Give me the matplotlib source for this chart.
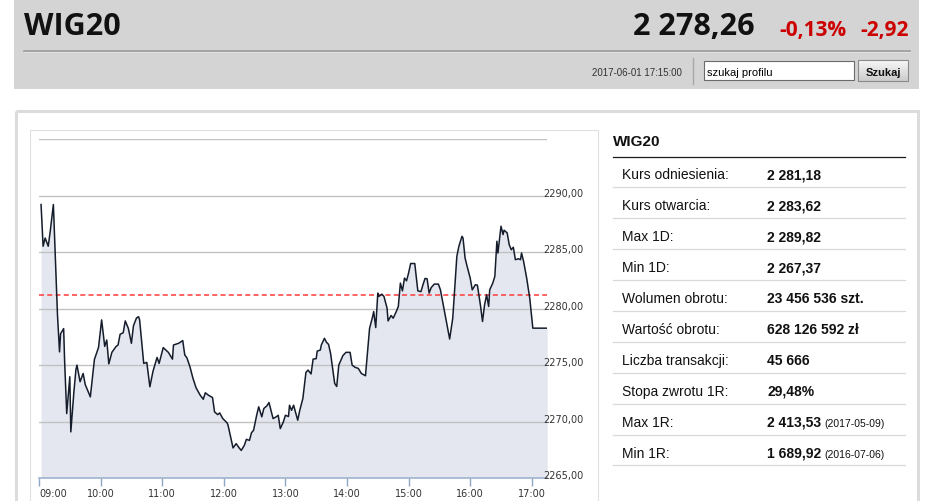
import numpy as np
import matplotlib
matplotlib.use("Agg")
import matplotlib.pyplot as plt
import matplotlib.patches as patches

# Quote snapshot (header)
index_name = "WIG20"
last_value = "2 278,26"
change_pct = "-0,13%"
change_abs = "-2,92"
timestamp = "2017-06-01 17:15:00"
reference_level = 2281.18  # kurs odniesienia

# Intraday quotes
times = ["09:02", "09:04", "09:06", "09:09", "09:11", "09:14", "09:18", "09:20", "09:21", "09:24",
         "09:25", "09:27", "09:30", "09:31", "09:34", "09:36", "09:37", "09:40", "09:43", "09:45",
         "09:50", "09:54", "09:58", "10:01", "10:04", "10:06", "10:08", "10:11", "10:15", "10:17",
         "10:19", "10:22", "10:24", "10:27", "10:30", "10:32", "10:35", "10:37", "10:38", "10:42",
         "10:45", "10:48", "10:51", "10:55", "10:57", "11:01", "11:06", "11:10", "11:11", "11:16",
         "11:20", "11:22", "11:24", "11:27", "11:30", "11:33", "11:37", "11:40", "11:42", "11:45",
         "11:49", "11:51", "11:54", "11:56", "11:59", "12:03", "12:04", "12:07", "12:09", "12:12",
         "12:15", "12:17", "12:20", "12:22", "12:25", "12:27", "12:29", "12:32", "12:34", "12:37",
         "12:39", "12:42", "12:44", "12:48", "12:51", "12:53", "12:55", "12:58", "13:00", "13:03",
         "13:04", "13:06", "13:08", "13:12", "13:14", "13:17", "13:20", "13:22", "13:25", "13:27",
         "13:30", "13:31", "13:34", "13:35", "13:38", "13:40", "13:42", "13:44", "13:46", "13:48",
         "13:50", "13:52", "13:56", "13:59", "14:03", "14:05", "14:08", "14:11", "14:14", "14:18",
         "14:20", "14:22", "14:25", "14:26", "14:28", "14:30", "14:31", "14:34", "14:36", "14:39",
         "14:40", "14:43", "14:45", "14:48", "14:50", "14:52", "14:54", "14:56", "14:58", "15:00",
         "15:02", "15:06", "15:08", "15:09", "15:12", "15:14", "15:16", "15:18", "15:20", "15:22",
         "15:25", "15:29", "15:31", "15:35", "15:40", "15:43", "15:47", "15:49", "15:52", "15:53",
         "15:55", "15:57", "16:00", "16:02", "16:05", "16:07", "16:09", "16:10", "16:12", "16:14",
         "16:16", "16:18", "16:19", "16:22", "16:24", "16:26", "16:27", "16:30", "16:32", "16:33",
         "16:36", "16:38", "16:40", "16:42", "16:44", "16:47", "16:49", "16:50", "16:52", "16:55",
         "16:58", "17:01", "17:15"]

prices = [2289.20, 2285.51, 2286.24, 2285.51, 2286.87, 2289.20, 2279.43, 2276.16, 2277.76, 2278.22,
          2275.23, 2270.70, 2273.96, 2269.08, 2272.63, 2274.61, 2274.99, 2273.52, 2274.25, 2273.28,
          2272.18, 2275.50, 2276.56, 2278.99, 2276.65, 2277.21, 2275.10, 2276.12, 2276.63, 2276.77,
          2277.72, 2277.85, 2278.90, 2278.25, 2276.92, 2278.47, 2279.17, 2279.27, 2278.99, 2275.14,
          2275.23, 2273.07, 2274.43, 2275.67, 2275.14, 2276.54, 2276.12, 2275.52, 2276.77, 2276.92,
          2277.16, 2275.88, 2275.65, 2274.85, 2273.81, 2272.98, 2272.33, 2271.97, 2272.54, 2272.33,
          2272.12, 2270.85, 2270.61, 2270.76, 2270.26, 2269.90, 2269.72, 2268.48, 2267.66, 2268.04,
          2267.66, 2267.44, 2267.89, 2268.42, 2268.33, 2269.01, 2269.22, 2270.55, 2271.30, 2270.41,
          2271.15, 2271.39, 2271.68, 2270.26, 2270.41, 2270.55, 2269.37, 2269.96, 2270.55, 2270.44,
          2271.44, 2270.99, 2271.44, 2270.11, 2270.99, 2272.03, 2274.34, 2274.55, 2274.21, 2275.52,
          2275.56, 2276.23, 2276.32, 2276.77, 2277.36, 2277.01, 2276.83, 2276.03, 2274.70, 2273.37,
          2273.10, 2274.99, 2275.83, 2276.12, 2276.12, 2274.99, 2274.79, 2274.70, 2274.25, 2274.05,
          2276.18, 2278.25, 2279.29, 2279.73, 2278.31, 2281.36, 2281.07, 2281.27, 2281.07, 2280.03,
          2278.90, 2279.38, 2279.14, 2279.73, 2280.18, 2282.25, 2281.56, 2282.69, 2282.45, 2283.14,
          2283.98, 2283.98, 2282.42, 2281.56, 2281.49, 2282.10, 2282.66, 2282.63, 2281.36, 2281.85,
          2282.16, 2282.16, 2281.65, 2279.73, 2277.30, 2279.14, 2284.62, 2285.51, 2286.39, 2286.24,
          2284.47, 2283.73, 2282.69, 2281.65, 2282.10, 2282.07, 2280.91, 2280.27, 2278.85, 2280.32,
          2281.21, 2280.18, 2281.65, 2282.25, 2282.84, 2285.95, 2284.91, 2287.28, 2286.54, 2286.93,
          2286.69, 2285.65, 2285.20, 2285.42, 2284.32, 2284.40, 2284.32, 2284.91, 2284.17, 2282.69,
          2280.91, 2278.26, 2278.26]

hour_ticks = [9, 10, 11, 12, 13, 14, 15, 16, 17]
price_ticks = [2265, 2270, 2275, 2280, 2285, 2290]
grid_levels = [2270, 2275, 2280, 2285, 2290, 2295]

# Side table
stat_labels = ["Kurs odniesienia:", "Kurs otwarcia:", "Max 1D:", "Min 1D:", "Wolumen obrotu:",
               "Wartość obrotu:", "Liczba transakcji:", "Stopa zwrotu 1R:", "Max 1R:", "Min 1R:"]
stat_values = ["2 281,18", "2 283,62", "2 289,82", "2 267,37", "23 456 536 szt.",
               "628 126 592 zł", "45 666", "29,48%", "2 413,53", "1 689,92"]
stat_dates = ["", "", "", "", "", "", "", "", "(2017-05-09)", "(2016-07-06)"]


def to_hours(s):
    h, m = s.split(":")
    return int(h) + int(m) / 60.0


W, H = 945, 502
fig = plt.figure(figsize=(W / 100, H / 100), dpi=100, facecolor="white")

# background axes in pixel coordinates (y going down)
bg = fig.add_axes([0, 0, 1, 1])
bg.set_xlim(0, W)
bg.set_ylim(H, 0)
bg.axis("off")

SANS = ["Liberation Sans", "DejaVu Sans"]
HEAD = ["Open Sans", "DejaVu Sans"]

# header band
bg.add_patch(patches.Rectangle((14, 0), 905, 90, fc="#d4d4d4", ec="none"))
bg.plot([24, 910], [51.5, 51.5], color="#9c9c9c", lw=1.2)
bg.plot([24, 910], [53, 53], color="#e2e2e2", lw=0.7)

bg.text(24, 35, index_name, family=HEAD, weight="bold", fontsize=22, color="#111111", va="baseline")
bg.text(755, 35, last_value, family=HEAD, weight="bold", fontsize=22, color="#111111",
        va="baseline", ha="right")
bg.text(846.5, 36, change_pct, family=HEAD, weight="bold", fontsize=15, color="#cc0000",
        va="baseline", ha="right")
bg.text(908.5, 36, change_abs, family=HEAD, weight="bold", fontsize=15, color="#cc0000",
        va="baseline", ha="right")

bg.text(682, 75.5, timestamp, family=SANS, fontsize=7, color="#333333", va="baseline", ha="right")
bg.plot([693, 693], [59, 85], color="#a8a8a8", lw=1)

# search box + button
bg.add_patch(patches.Rectangle((703.5, 61.5), 150, 19, fc="white", ec="#6b6b6b", lw=0.8))
bg.text(707, 75.5, "szukaj profilu", family=SANS, fontsize=8, color="black", va="baseline")
shade = np.linspace(0, 1, 20)[:, None, None]
grad = (1 - shade) * np.array([0.97, 0.97, 0.97]) + shade * np.array([0.80, 0.80, 0.80])
bg.imshow(grad, extent=(858, 908, 82, 61), aspect="auto", origin="upper", zorder=2)
bg.add_patch(patches.Rectangle((858, 61), 50, 21, fill=False, ec="#8a8a8a", lw=0.8, zorder=3))
bg.text(883, 76, "Szukaj", family=SANS, weight="bold", fontsize=8, color="#111111",
        va="baseline", ha="center", zorder=4)
bg.set_xlim(0, W)
bg.set_ylim(H, 0)

# content frame and chart frame
bg.add_patch(patches.Rectangle((15.5, 111.5), 902, 420, fill=False, ec="#dcdcdc", lw=2.2))
bg.add_patch(patches.Rectangle((29.5, 131), 568.5, 420, fill=False, ec="#e0e0e0", lw=0.8))

# side table
bg.text(613, 146.5, index_name, family=SANS, weight="bold", fontsize=11, color="#111111", va="baseline")
bg.plot([613, 905], [157.5, 157.5], color="#1a1a1a", lw=0.9)
row_h = 30.9
for i in range(len(stat_labels)):
    top = 157.5 + i * row_h
    base = top + row_h / 2 + 6.5
    bg.text(622.5, base, stat_labels[i], family=SANS, fontsize=10, color="#111111", va="baseline")
    bg.text(767, base, stat_values[i], family=SANS, weight="bold", fontsize=10,
            color="#111111", va="baseline")
    if stat_dates[i]:
        bg.text(824, base, stat_dates[i], family=SANS, fontsize=7.5, color="#111111", va="baseline")
    bg.plot([613, 905], [top + row_h, top + row_h], color="#d9d9d9", lw=0.9)

# intraday chart
hrs = np.array([to_hours(t) for t in times])
ax = fig.add_axes([39 / W, (H - 479) / H, 508.2 / W, (479 - 140) / H])
ax.patch.set_alpha(0)
ax.set_xlim(9, 17.25)
ax.set_ylim(price_ticks[0], grid_levels[-1])

ax.fill_between(hrs, prices, price_ticks[0], color="#e4e7ef", lw=0, zorder=1)
for lev in grid_levels:
    ax.axhline(lev, color="#c2c2c2", lw=1.0, zorder=2)
ax.axhline(reference_level, color="#ff3b3b", lw=1.1, ls=(0, (3.3, 2.1)), zorder=3)
ax.plot(hrs, prices, color="#151d2c", lw=1.1, zorder=4)

for side in ["top", "left", "right"]:
    ax.spines[side].set_visible(False)
ax.spines["bottom"].set_color("#9fb3cf")
ax.spines["bottom"].set_linewidth(1.2)

ax.set_yticks([])
ax.set_xticks(hour_ticks)
ax.set_xticklabels(["{:02d}:00".format(h) for h in hour_ticks])
ax.tick_params(axis="x", length=5.6, width=1, color="#8da6c6", labelsize=7,
               labelcolor="#333333", pad=1.5)
ax.get_xticklabels()[0].set_ha("left")

for v in price_ticks:
    ax.text(0.9915, v, "{:.2f}".format(v).replace(".", ","), transform=ax.get_yaxis_transform(),
            ha="left", va="baseline", fontsize=7, color="#333333", clip_on=False, zorder=5)

fig.savefig("out.png", dpi=100, facecolor="white")
